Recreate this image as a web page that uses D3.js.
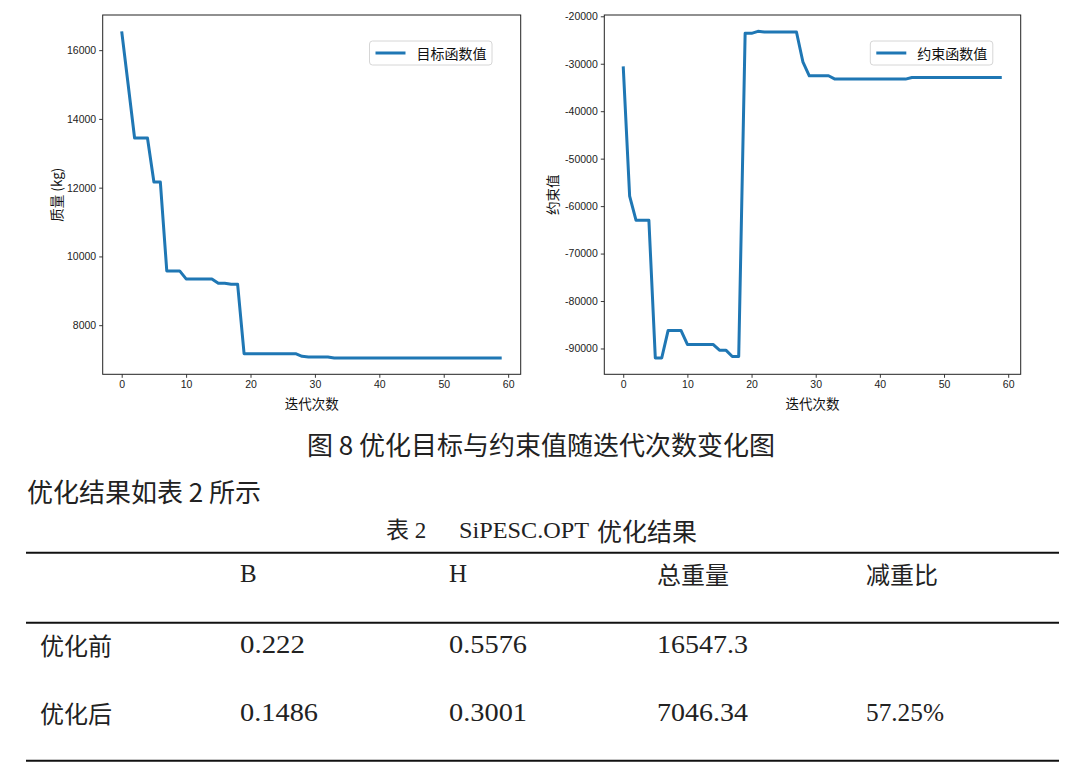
<!DOCTYPE html>
<html>
<head>
<meta charset="utf-8">
<script src="https://cdn.jsdelivr.net/npm/d3@7"></script>
<style>
  html, body { margin: 0; padding: 0; background: #fff; }
  svg { display: block; }
</style>
</head>
<body>
<script>
// ---------------- DATA ----------------
const iterations = d3.range(60);
const objectiveValues = [
  16547.3, 15000, 13445, 13445, 13445, 12163, 12163, 9579, 9579, 9579,
  9346, 9346, 9346, 9346, 9346, 9220, 9220, 9190, 9190, 7171,
  7171, 7171, 7171, 7171, 7171, 7171, 7171, 7171, 7093, 7075,
  7075, 7075, 7075, 7046.34, 7046.34, 7046.34, 7046.34, 7046.34, 7046.34, 7046.34,
  7046.34, 7046.34, 7046.34, 7046.34, 7046.34, 7046.34, 7046.34, 7046.34, 7046.34, 7046.34,
  7046.34, 7046.34, 7046.34, 7046.34, 7046.34, 7046.34, 7046.34, 7046.34, 7046.34, 7046.34
];
const constraintValues = [
  -30560, -57900, -63000, -63000, -63000, -92000, -92000, -86200, -86200, -86200,
  -89150, -89150, -89150, -89150, -89150, -90350, -90350, -91690, -91690, -23600,
  -23600, -23170, -23310, -23310, -23310, -23310, -23310, -23310, -29580, -32535,
  -32535, -32535, -32535, -33240, -33240, -33240, -33240, -33240, -33240, -33240,
  -33240, -33240, -33240, -33240, -33240, -32890, -32890, -32890, -32890, -32890,
  -32890, -32890, -32890, -32890, -32890, -32890, -32890, -32890, -32890, -32890
];
const xTicks = [0, 10, 20, 30, 40, 50, 60];
const objectiveTicks = [8000, 10000, 12000, 14000, 16000];
const constraintTicks = [-90000, -80000, -70000, -60000, -50000, -40000, -30000, -20000];
const xLabel = "迭代次数";
const objectiveLabel = "质量 (kg)";
const constraintLabel = "约束值";
const objectiveLegend = "目标函数值";
const constraintLegend = "约束函数值";

const figureCaption = "图 8 优化目标与约束值随迭代次数变化图";
const paragraphText = "优化结果如表 2 所示";
const tableCaptionParts = ["表 2", "SiPESC.OPT", "优化结果"];
const tableHeaders = ["", "B", "H", "总重量", "减重比"];
const rowLabels = ["优化前", "优化后"];
const colB = ["0.222", "0.1486"];
const colH = ["0.5576", "0.3001"];
const colTotal = ["16547.3", "7046.34"];
const colRatio = ["", "57.25%"];

// ---------------- DRAW ----------------
const W = 1080, H = 775;
const svg = d3.select("body").append("svg").attr("width", W).attr("height", H);
svg.append("rect").attr("width", W).attr("height", H).attr("fill", "#fff");

const CJK = "'Noto Sans CJK SC', 'Noto Sans', sans-serif";
const TICKF = "'Liberation Sans', Arial, sans-serif";
const SERIF = "'Liberation Serif', 'Noto Sans CJK SC', serif";
const BLUE = "#1f77b4";

function paddedDomain(vals) {
  const [mn, mx] = d3.extent(vals);
  const m = (mx - mn) * 0.05;
  return [mn - m, mx + m];
}

function drawChart(cfg) {
  const g = svg.append("g");
  const x = d3.scaleLinear().domain(paddedDomain(iterations)).range([cfg.left, cfg.right]);
  const y = d3.scaleLinear().domain(paddedDomain(cfg.values)).range([cfg.bottom, cfg.top]);

  g.append("path")
    .datum(cfg.values)
    .attr("fill", "none")
    .attr("stroke", BLUE)
    .attr("stroke-width", 3)
    .attr("stroke-linejoin", "round")
    .attr("stroke-linecap", "butt")
    .attr("d", d3.line().x((d, i) => x(iterations[i])).y(d => y(d)));

  const xa = g.append("g").attr("transform", `translate(0,${cfg.bottom})`)
    .call(d3.axisBottom(x).tickValues(xTicks).tickSize(3.5).tickPadding(3).tickFormat(d3.format("d")));
  const ya = g.append("g").attr("transform", `translate(${cfg.left},0)`)
    .call(d3.axisLeft(y).tickValues(cfg.ticks).tickSize(3.5).tickPadding(3).tickFormat(d => String(d)));
  [xa, ya].forEach(a => {
    a.select(".domain").remove();
    a.selectAll("line").attr("stroke", "#222").attr("stroke-width", 0.9);
    a.selectAll("text").attr("fill", "#222").style("font-family", TICKF).style("font-size", "10.5px");
  });

  g.append("rect")
    .attr("x", cfg.left).attr("y", cfg.top)
    .attr("width", cfg.right - cfg.left).attr("height", cfg.bottom - cfg.top)
    .attr("fill", "none").attr("stroke", "#222").attr("stroke-width", 1);

  g.append("text")
    .attr("x", (cfg.left + cfg.right) / 2).attr("y", 403)
    .attr("text-anchor", "middle").attr("dominant-baseline", "central")
    .style("font-family", CJK).style("font-size", "13.5px").attr("fill", "#111")
    .text(xLabel);
  g.append("text")
    .attr("transform", `translate(${cfg.ylabelX},${(cfg.top + cfg.bottom) / 2}) rotate(-90)`)
    .attr("text-anchor", "middle").attr("dominant-baseline", "central")
    .style("font-family", CJK).style("font-size", "13.5px").attr("fill", "#111")
    .text(cfg.ylabel);

  const lg = g.append("g");
  lg.append("rect")
    .attr("x", cfg.legendX).attr("y", 41).attr("width", 122.5).attr("height", 24).attr("rx", 3)
    .attr("fill", "#fff").attr("stroke", "#d6d6d6").attr("stroke-width", 1);
  lg.append("line")
    .attr("x1", cfg.legendX + 6).attr("x2", cfg.legendX + 36)
    .attr("y1", 53).attr("y2", 53)
    .attr("stroke", BLUE).attr("stroke-width", 3);
  lg.append("text")
    .attr("x", cfg.legendX + 47).attr("y", 53)
    .attr("dominant-baseline", "central")
    .style("font-family", CJK).style("font-size", "14px").attr("fill", "#111")
    .text(cfg.legend);
}

drawChart({ left: 102.7, right: 520.7, top: 15, bottom: 374.3, values: objectiveValues,
  ticks: objectiveTicks, ylabel: objectiveLabel, ylabelX: 56, legend: objectiveLegend, legendX: 369.5 });
drawChart({ left: 604.3, right: 1020.7, top: 15, bottom: 374.3, values: constraintValues,
  ticks: constraintTicks, ylabel: constraintLabel, ylabelX: 552, legend: constraintLegend, legendX: 870.3 });

svg.append("text").attr("x", 541).attr("y", 443)
  .attr("text-anchor", "middle").attr("dominant-baseline", "central")
  .style("font-family", CJK).style("font-size", "26px").attr("fill", "#222")
  .text(figureCaption);
svg.append("text").attr("x", 27).attr("y", 490)
  .attr("dominant-baseline", "central")
  .style("font-family", CJK).style("font-size", "26px").attr("fill", "#222")
  .text(paragraphText);

const capY = 530;
svg.append("text").attr("x", 386).attr("y", capY).attr("dominant-baseline", "central")
  .style("font-family", SERIF).style("font-size", "23px").attr("fill", "#222")
  .text(tableCaptionParts[0]);
svg.append("text").attr("x", 459).attr("y", capY).attr("dominant-baseline", "central")
  .attr("textLength", 130).attr("lengthAdjust", "spacingAndGlyphs")
  .style("font-family", SERIF).style("font-size", "24px").attr("fill", "#222")
  .text(tableCaptionParts[1]);
svg.append("text").attr("x", 597).attr("y", capY).attr("dominant-baseline", "central")
  .style("font-family", CJK).style("font-size", "25px").attr("fill", "#222")
  .text(tableCaptionParts[2]);

[552.7, 622.7, 760.7].forEach(yy => {
  svg.append("line").attr("x1", 26).attr("x2", 1059).attr("y1", yy).attr("y2", yy)
    .attr("stroke", "#111").attr("stroke-width", 2);
});

const colX = [40, 240, 449, 657, 866];
const isCJK = s => /[\u4e00-\u9fff]/.test(s);
function cell(s, cx, cy) {
  if (!s) return;
  const t = svg.append("text").attr("x", cx).attr("y", cy).attr("dominant-baseline", "central")
    .attr("fill", "#222").text(s);
  if (isCJK(s)) {
    t.style("font-family", CJK).style("font-size", "24px");
  } else {
    t.style("font-family", SERIF).style("font-size", "25px");
    if (s.length > 1) t.attr("textLength", s.length * 13).attr("lengthAdjust", "spacingAndGlyphs");
  }
}
tableHeaders.forEach((h, i) => cell(h, colX[i], 573.5));
const rowY = [644, 712.7];
rowLabels.forEach((r, j) => {
  cell(r, colX[0], rowY[j]);
  cell(colB[j], colX[1], rowY[j]);
  cell(colH[j], colX[2], rowY[j]);
  cell(colTotal[j], colX[3], rowY[j]);
  cell(colRatio[j], colX[4], rowY[j]);
});
</script>
</body>
</html>
